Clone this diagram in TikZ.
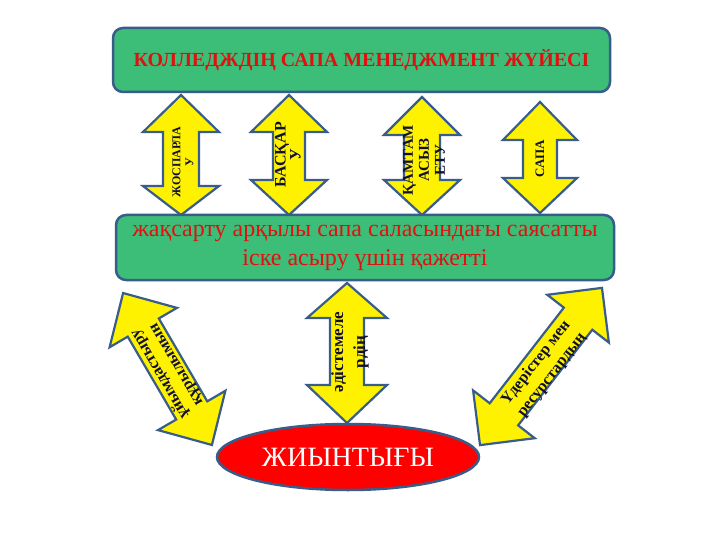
\documentclass[tikz,border=0pt]{standalone}
\usepackage{fontspec}
\setmainfont{Liberation Serif}
\usetikzlibrary{shapes.geometric}
\definecolor{boxgreen}{HTML}{3DBE78}
\definecolor{edgeblue}{HTML}{385D8A}
\definecolor{txtred}{HTML}{E01010}
\definecolor{arrowtxt}{HTML}{101030}
\tikzset{
  panel/.style={draw=edgeblue, line width=2.5pt, fill=boxgreen, rounded corners=10pt, inner sep=0pt},
  dblarrow/.style={draw=edgeblue, line width=2.2pt, fill=yellow, line join=miter},
  arrowlabel/.style={text=arrowtxt, font=\bfseries, align=center, inner sep=0pt},
}
% vertical double arrow: cx, ytop, yheadbase1, yheadbase2, ybottom, headhalf, shafthalf
\newcommand\vdarrow[7]{%
  \path[dblarrow] (#1,#2) -- (#1+#6,#3) -- (#1+#7,#3) -- (#1+#7,#4) -- (#1+#6,#4)
    -- (#1,#5) -- (#1-#6,#4) -- (#1-#7,#4) -- (#1-#7,#3) -- (#1-#6,#3) -- cycle;}
% rotated double arrow: cx, cy, angle, halflength, headlength, headhalf, shafthalf
\newcommand\rdarrow[7]{%
  \begin{scope}[shift={(#1,#2)}, rotate=#3, x=1pt, y=1pt]
  \path[dblarrow] (-#4,0) -- (-#4+#5,#6) -- (-#4+#5,#7) -- (#4-#5,#7) -- (#4-#5,#6)
    -- (#4,0) -- (#4-#5,-#6) -- (#4-#5,-#7) -- (-#4+#5,-#7) -- (-#4+#5,-#6) -- cycle;
  \end{scope}}
\begin{document}
\begin{tikzpicture}[x=1pt, y=-1pt]
\useasboundingbox (0,0) rectangle (720,540);
\fill[white] (0,0) rectangle (720,540);

% top arrows
\vdarrow{181}{95}{132}{186}{215}{38}{18}
\vdarrow{289}{95}{132}{180}{215}{38}{16}
\vdarrow{422}{97}{135}{180}{215}{38}{18}
\vdarrow{540}{102}{140}{178}{213}{37}{17}
% lower arrows
\vdarrow{347}{283}{318}{385}{423}{40}{17}
\rdarrow{167.5}{369}{120.3}{88}{40}{39}{18}
\rdarrow{541}{366.5}{52.2}{99.5}{39}{39}{18}

% boxes
\node[panel, minimum width=497pt, minimum height=64pt] (top) at (361.5,60)
  {\color{txtred}\bfseries\fontsize{20}{23}\selectfont КОЛЛЕДЖДІҢ САПА МЕНЕДЖМЕНТ ЖҮЙЕСІ};
\node[panel, minimum width=498pt, minimum height=65pt, align=center, text=txtred,
  font=\fontsize{24}{29}\selectfont] (mid) at (365,247.5)
  {жақсарту арқылы сапа саласындағы саясатты\\іске асыру үшін қажетті};
\node[ellipse, draw=edgeblue, line width=2.5pt, fill=red, minimum width=262pt,
  minimum height=66pt, inner sep=0pt, text=white, font=\fontsize{28}{32}\selectfont]
  (total) at (348,457) {ЖИЫНТЫҒЫ};

% arrow labels
\node[arrowlabel, rotate=90, font=\bfseries\fontsize{12}{13}\selectfont] (l1) at (183,162) {ЖОСПАРЛА\\У};
\node[arrowlabel, rotate=90, font=\bfseries\fontsize{16}{15}\selectfont] (l2) at (288,155) {БАСҚАР\\У};
\node[arrowlabel, rotate=90, font=\bfseries\fontsize{15}{16}\selectfont] (l3) at (424,160) {ҚАМТАМ\\АСЫЗ\\ЕТУ};
\node[arrowlabel, rotate=90, font=\bfseries\fontsize{13}{15}\selectfont] (l4) at (540,159) {САПА};
\node[arrowlabel, rotate=90, font=\bfseries\fontsize{17}{22}\selectfont] (l5) at (350,352) {әдістемеле\\рдің};
\node[arrowlabel, rotate=120.3, font=\bfseries\fontsize{16}{19}\selectfont] (l6) at (168,369) {ұйымдастыру\\құрылымын};
\node[arrowlabel, rotate=52.2, font=\bfseries\fontsize{16}{20}\selectfont] (l7) at (544,369) {Үдерістер мен\\ресурстардың};
\end{tikzpicture}
\end{document}
